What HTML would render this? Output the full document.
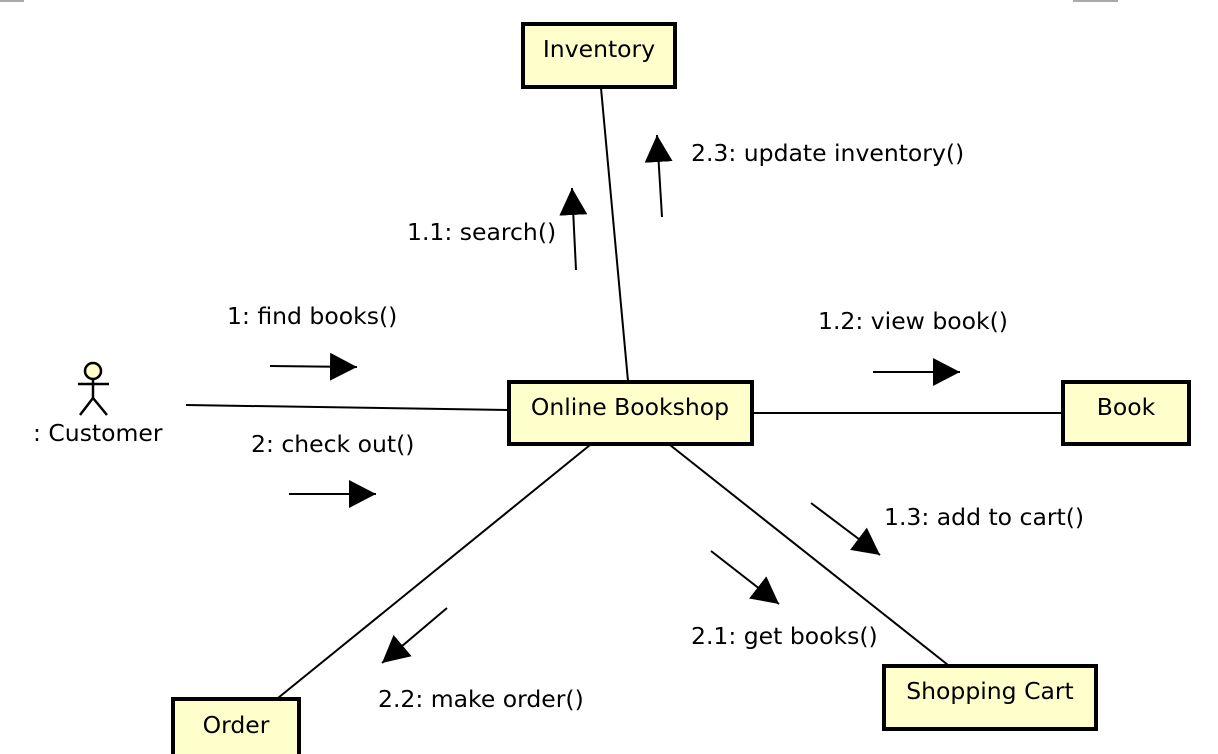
<!DOCTYPE html>
<html><head><meta charset="utf-8"><style>
html,body{margin:0;padding:0;background:#fff;}
svg{display:block;}
text{font-family:"DejaVu Sans","Liberation Sans",sans-serif;font-size:23.5px;fill:#000;}
</style></head><body>
<svg width="1218" height="754" viewBox="0 0 1218 754" xmlns="http://www.w3.org/2000/svg">
<defs>
<marker id="a" markerUnits="userSpaceOnUse" markerWidth="30" markerHeight="30" refX="27" refY="14" orient="auto">
<path d="M0,0 L27,14 L0,28 Z" fill="#000"/>
</marker>
</defs>
<rect x="0" y="0" width="24" height="2" fill="#aaa"/>
<rect x="1073" y="0" width="45" height="2" fill="#aaa"/>
<g stroke="#000" stroke-width="2" fill="none">
<line x1="186" y1="405" x2="508" y2="410"/>
<line x1="601" y1="88" x2="628" y2="381"/>
<line x1="753" y1="413" x2="1062" y2="413"/>
<line x1="590" y1="445" x2="278" y2="698"/>
<line x1="670" y1="445" x2="948" y2="665"/>
<line x1="270" y1="366" x2="357" y2="367" marker-end="url(#a)"/>
<line x1="289" y1="494" x2="376" y2="494" marker-end="url(#a)"/>
<line x1="576" y1="270" x2="572" y2="188" marker-end="url(#a)"/>
<line x1="662" y1="217" x2="657" y2="135" marker-end="url(#a)"/>
<line x1="873" y1="372" x2="960" y2="372" marker-end="url(#a)"/>
<line x1="811" y1="503" x2="880" y2="555" marker-end="url(#a)"/>
<line x1="711" y1="551" x2="779" y2="604" marker-end="url(#a)"/>
<line x1="447" y1="608" x2="382" y2="663" marker-end="url(#a)"/>
</g>
<g fill="#ffffcc" stroke="#000" stroke-width="4">
<rect x="523" y="24" width="152" height="63"/>
<rect x="509" y="382" width="243" height="62"/>
<rect x="1063" y="382" width="126" height="62"/>
<rect x="884" y="666" width="212" height="63"/>
<rect x="173" y="699" width="126" height="70"/>
</g>
<text x="599" y="57" text-anchor="middle">Inventory</text>
<text x="630" y="415" text-anchor="middle">Online Bookshop</text>
<text x="1126" y="415" text-anchor="middle">Book</text>
<text x="990" y="699" text-anchor="middle">Shopping Cart</text>
<text x="236" y="733" text-anchor="middle">Order</text>
<g stroke="#000" stroke-width="2.5" fill="none">
<circle cx="93" cy="371" r="8" fill="#ffffcc"/>
<line x1="93" y1="379" x2="93" y2="398"/>
<line x1="78" y1="384" x2="109" y2="384"/>
<line x1="93" y1="398" x2="80" y2="415"/>
<line x1="93" y1="398" x2="107" y2="415"/>
</g>
<text x="33" y="441">: Customer</text>
<text x="227" y="324">1: find books()</text>
<text x="251" y="452">2: check out()</text>
<text x="407" y="240">1.1: search()</text>
<text x="691" y="161">2.3: update inventory()</text>
<text x="818" y="329">1.2: view book()</text>
<text x="884" y="525">1.3: add to cart()</text>
<text x="691" y="644">2.1: get books()</text>
<text x="378" y="707">2.2: make order()</text>
</svg>
</body></html>
